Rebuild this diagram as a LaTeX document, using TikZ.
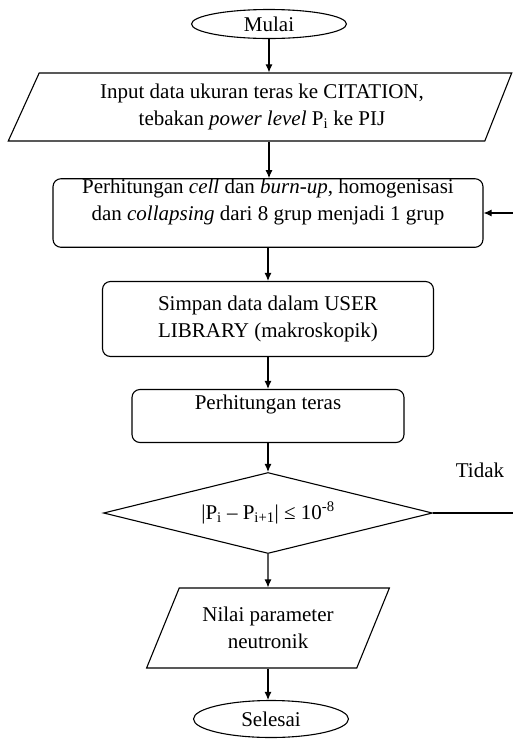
\documentclass[tikz,border=0pt]{standalone}
\usepackage{fontspec}
\setmainfont{Liberation Serif}
\usepackage{tikz}
\usetikzlibrary{shapes.geometric,arrows.meta}

\begin{document}
\begin{tikzpicture}[x=1pt, y=-1pt, line width=1.1pt,
    font=\fontsize{21}{27}\selectfont]
    % flowchart styles
    \tikzstyle{terminal}=[
      draw,
      ellipse,
      inner sep=0pt,
      minimum width=155pt,
      minimum height=29pt
    ]
    \tikzstyle{io}=[
      draw,
      trapezium,
      trapezium stretches=true,
      inner sep=0pt,
      align=center
    ]
    \tikzstyle{block}=[
      draw,
      rectangle,
      rounded corners=8pt,
      inner sep=0pt,
      align=center
    ]
    \tikzstyle{decision}=[
      draw,
      diamond,
      aspect=4,
      inner sep=0pt,
      minimum width=329pt,
      minimum height=81pt
    ]
    \tikzstyle{flow}=[-{Latex[length=8pt,width=7pt]}]

    \useasboundingbox (0,0) rectangle (513,740);

    % Start and input
    \node[terminal] (mulai) at (269,24) {Mulai};
    \node[io, trapezium left angle=64, trapezium right angle=113,
      minimum width=504pt, minimum height=68pt] (input) at (262,107)
      {Input data ukuran teras ke CITATION,\\
       tebakan \textit{power level} P\textsubscript{i} ke PIJ};

    % Process blocks
    \node[block, minimum width=430pt, minimum height=66pt] (sel) at (268,213)
      {Perhitungan \textit{cell} dan \textit{burn-up}, homogenisasi\\
       dan \textit{collapsing} dari 8 grup menjadi 1 grup\\\mbox{}};
    \node[block, minimum width=331pt, minimum height=75pt] (simpan) at (268,319)
      {Simpan data dalam USER\\LIBRARY (makroskopik)};
    \node[block, minimum width=272pt, minimum height=53pt] (teras) at (268,416)
      {Perhitungan teras\\\mbox{}};

    % Convergence check
    \node[decision] (cek) at (268,513)
      {|P\textsubscript{i} – P\textsubscript{i+1}| ≤ 10\textsuperscript{-8}};
    \node (tidak) at (480,470) {Tidak};
    \coordinate (balik) at (514,213);

    % Output and end
    \node[io, trapezium left angle=60, trapezium right angle=120,
      minimum width=243pt, minimum height=80pt] (nilai) at (268,628)
      {Nilai parameter\\neutronik};
    \node[terminal, minimum height=37pt] (selesai) at (271,719) {Selesai};

    % Arrows down the main column
    \draw[flow] (mulai.south) -- (input.north -| mulai.south);
    \draw[flow] (input.south -| mulai.south) -- (sel.north -| mulai.south);
    \draw[flow] (sel.south) -- (simpan.north);
    \draw[flow] (simpan.south) -- (teras.north);
    \draw[flow] (teras.south) -- (cek.north);
    \draw[flow] (cek.south) -- (nilai.north);
    \draw[flow] (nilai.south) -- (selesai.north -| nilai.south);

    % Loop back when not converged
    \draw[flow] (cek.east) -| (balik) -- (sel.east);
  \end{tikzpicture}
\end{document}
